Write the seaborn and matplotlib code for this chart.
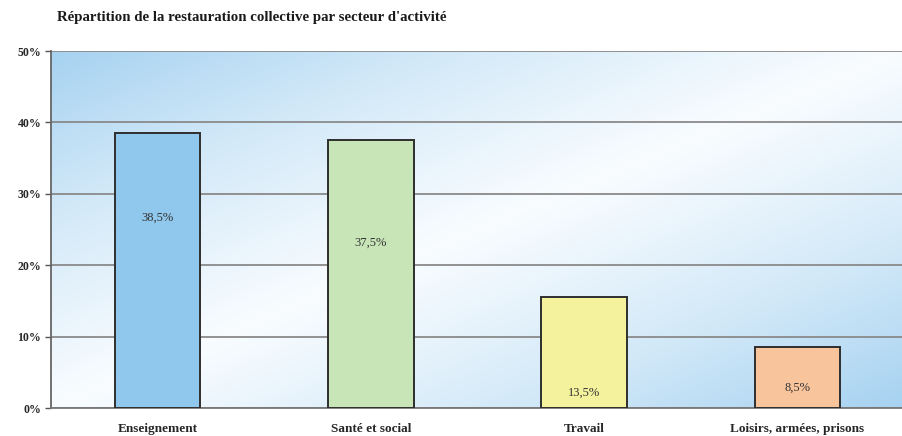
import numpy as np
import pandas as pd
import matplotlib
matplotlib.use("Agg")
import matplotlib.pyplot as plt
from matplotlib.colors import LinearSegmentedColormap
import seaborn as sns

categories = ["Enseignement", "Santé et social", "Travail", "Loisirs, armées, prisons"]
values = [38.5, 37.5, 15.5, 8.5]
value_labels = ["38,5%", "37,5%", "13,5%", "8,5%"]
label_y = [26.7, 23.1, 2.1, 2.8]
bar_colors = ["#90c7ec", "#c8e5b8", "#f5f29d", "#f8c49c"]
y_ticks = [0, 10, 20, 30, 40, 50]
y_tick_labels = ["0%", "10%", "20%", "30%", "40%", "50%"]
title = "Répartition de la restauration collective par secteur d'activité"

sns.set_theme(style="white")
plt.rcParams['font.family'] = ['Liberation Serif', 'DejaVu Serif']

fig = plt.figure(figsize=(9.02, 4.36), dpi=100)
fig.patch.set_facecolor("white")
ax = fig.add_axes([51 / 902, 28 / 436, 853 / 902, 357 / 436])

# gradient background
W, H = 400, 200
u = np.linspace(0, 1, W)[None, :]
v = np.linspace(1, 0, H)[:, None]
d = np.abs(u - v)
d = np.clip(d, 0, 1) ** 1.1
cmap = LinearSegmentedColormap.from_list("bg", ["#f8fcff", "#d3e9f8", "#a6d2f1"])
ax.imshow(d, cmap=cmap, vmin=0, vmax=1, extent=[0, 1, 0, 1], transform=ax.transAxes,
          aspect="auto", zorder=0, interpolation="bilinear")

df = pd.DataFrame({"cat": categories, "val": values})
sns.barplot(data=df, x="cat", y="val", hue="cat", palette=bar_colors, legend=False,
            saturation=1, width=0.4, edgecolor="#2e2e2e", linewidth=1.4, ax=ax, zorder=3)

for i, (lab, ly) in enumerate(zip(value_labels, label_y)):
    ax.text(i, ly, lab, ha="center", va="center", fontsize=9, color="#333333", zorder=4)

ax.set_xlim(-0.5, len(categories) - 0.5)
ax.set_ylim(0, 50)
ax.set_yticks(y_ticks)
ax.set_yticklabels(y_tick_labels, fontsize=8.5, fontweight="bold")
ax.set_xticks(range(len(categories)))
ax.set_xticklabels(categories, fontsize=9.5, fontweight="bold")
ax.set_xticks([0.5, 1.5, 2.5], minor=True)
ax.tick_params(axis="x", which="major", length=0, pad=11)
ax.tick_params(axis="x", which="minor", length=3, direction="out", color="#555555", width=1)
ax.tick_params(axis="y", length=4, direction="out", color="#555555", width=1, pad=3, left=True)
ax.set_xlabel("")
ax.set_ylabel("")

ax.yaxis.grid(True, color="#8a8a8a", linewidth=1.3, zorder=1)
ax.set_axisbelow(True)
for s in ["top", "right"]:
    ax.spines[s].set_visible(False)
ax.spines["left"].set_color("#666666")
ax.spines["left"].set_linewidth(1.3)
ax.spines["bottom"].set_color("#777777")
ax.spines["bottom"].set_linewidth(1.3)

fig.text(57 / 902, 1 - 17 / 436, title, ha="left", va="center", fontsize=10.7,
         fontweight="bold", color="#1a1a1a")

fig.savefig("out.png", dpi=100, facecolor="white")
